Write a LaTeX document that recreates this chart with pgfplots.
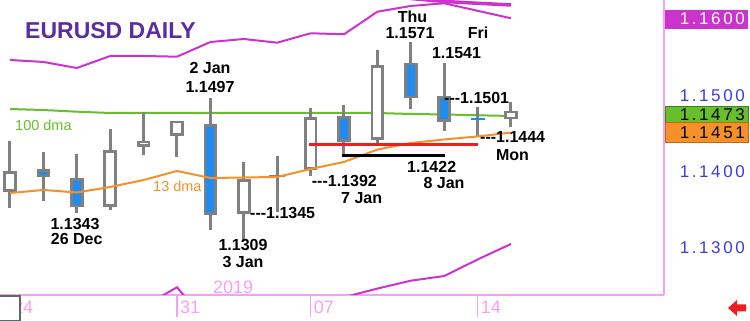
\documentclass[border=0pt]{standalone}
\usepackage{pgfplots}
\pgfplotsset{compat=1.18}
\usepackage{pgfplotstable}
\usepackage{fontspec}
\setmainfont{Liberation Sans}

\definecolor{cgrey}{RGB}{128,128,128}
\definecolor{cblue}{RGB}{30,140,240}
\definecolor{cmag}{RGB}{204,51,204}
\definecolor{cgreen}{RGB}{105,190,45}
\definecolor{cgreenb}{RGB}{60,130,30}
\definecolor{corange}{RGB}{245,145,40}
\definecolor{corangeb}{RGB}{200,100,20}
\definecolor{cpink}{RGB}{245,160,245}
\definecolor{ctitle}{RGB}{90,45,160}
\definecolor{cylab}{RGB}{60,60,220}
\definecolor{cred}{RGB}{235,30,35}
\definecolor{cbox}{RGB}{100,100,100}

\pgfplotstableread{
i H L
0 1.14396 1.13516
1 1.14248 1.13612
2 1.14222 1.13451
3 1.14545 1.13490
4 1.14775 1.14209
5 1.14658 1.14179
6 1.14954 1.13229
7 1.14122 1.13085
8 1.14196 1.13470
9 1.14827 1.13940
10 1.14863 1.14200
11 1.15582 1.14340
12 1.15690 1.14807
13 1.15408 1.14527
14 1.14833 1.14448
15 1.14898 1.14579
}\wicks

\pgfplotstableread{
i B T
0 1.13729 1.14000
3 1.13533 1.14275
4 1.14318 1.14396
5 1.14458 1.14658
7 1.13438 1.13892
9 1.14013 1.14702
11 1.14405 1.15386
15 1.14676 1.14788
}\upbodies

\pgfplotstableread{
i B T
1 1.13918 1.14026
2 1.13525 1.13905
6 1.13425 1.14614
10 1.14383 1.14719
12 1.14950 1.15416
13 1.14644 1.14980
}\downbodies

\pgfplotstableread{
i B T
8 1.13915 1.13954
}\doji

\pgfplotstableread{
i B T
14 1.14664 1.14696
}\dash

\pgfplotstableread{
i G O U Lo
0 1.14810 1.13712 1.15451 1.1212
1 1.14797 1.13752 1.15425 1.1210
2 1.14775 1.13719 1.15346 1.1206
3 1.14758 1.13791 1.15503 1.1212
4 1.14758 1.13882 1.15503 1.1223
5 1.14758 1.14000 1.15494 1.1248
6 1.14758 1.13908 1.15686 1.1197
7 1.14758 1.13915 1.15725 1.1200
8 1.14758 1.13922 1.15677 1.1210
9 1.14758 1.14026 1.15800 1.1225
10 1.14758 1.14118 1.15787 1.1235
11 1.14758 1.14280 1.16082 1.12463
12 1.14745 1.14366 1.16157 1.12566
13 1.14739 1.14412 1.16192 1.12627
14 1.14728 1.14451 1.16094 1.12843
15 1.14719 1.14503 1.15996 1.13046
}\lines

\pgfplotstableread{
i V
12 1.16255
13 1.16216
14 1.16192
15 1.16170
}\topband

\newcommand\rl[4]{1\kern2.6pt.\kern2.6pt#1\kern2.6pt#2\kern2.6pt#3\kern2.6pt#4}
\newcommand\ann{\fontsize{16}{16}\selectfont\bfseries}

\begin{document}
\begin{tikzpicture}
\path[use as bounding box, fill=white] (0pt,-26pt) rectangle (750pt,295pt);
\begin{axis}[
  at={(0pt,0pt)}, anchor=south west,
  scale only axis, width=664pt, height=295pt,
  xmin=-0.2994, xmax=19.581, ymin=1.12379, ymax=1.16235,
  axis x line*=bottom, axis y line*=right,
  x axis line style={-}, y axis line style={-},
  axis line style={draw=cpink, line width=1.3pt},
  ytick=\empty,
  xtick={0,5,9,14}, xticklabels={24,31,07,14},
  tick align=outside, major tick length=22pt,
  tick style={draw=cpink, line width=1.2pt},
  xticklabel style={anchor=west, inner sep=0pt, xshift=3pt, yshift=10pt,
     text=cpink, font=\fontsize{18}{18}\selectfont},
  clip mode=individual,
]
% bands
\addplot[cmag, line width=2pt, mark=none] table[x=i, y=U] {\lines};
\addplot[cmag, line width=3.5pt, mark=none] table[x=i, y=V] {\topband};
\addplot[cmag, line width=2pt, mark=none] table[x=i, y=Lo] {\lines};
% 100 dma
\addplot[cgreen, line width=2pt, mark=none] table[x=i, y=G] {\lines};
% wicks
\addplot[draw=none, mark=none, error bars/.cd, y dir=plus, y explicit, error mark=none,
  error bar style={draw=cgrey, line width=3pt}]
  table[x=i, y=L, y error plus expr=\thisrow{H}-\thisrow{L}] {\wicks};
% body outlines
\addplot[draw=none, mark=none, error bars/.cd, y dir=plus, y explicit, error mark=none,
  error bar style={draw=cgrey, line width=13.5pt}]
  table[x=i, y=B, y error plus expr=\thisrow{T}-\thisrow{B}] {\upbodies};
\addplot[draw=none, mark=none, error bars/.cd, y dir=plus, y explicit, error mark=none,
  error bar style={draw=cgrey, line width=13.5pt}]
  table[x=i, y=B, y error plus expr=\thisrow{T}-\thisrow{B}] {\downbodies};
\addplot[draw=none, mark=none, error bars/.cd, y dir=plus, y explicit, error mark=none,
  error bar style={draw=cgrey, line width=16pt}]
  table[x=i, y=B, y error plus expr=\thisrow{T}-\thisrow{B}] {\doji};
% body fills
\addplot[draw=none, mark=none, error bars/.cd, y dir=plus, y explicit, error mark=none,
  error bar style={draw=white, line width=8pt}]
  table[x=i, y expr=\thisrow{B}+0.00035, y error plus expr=\thisrow{T}-\thisrow{B}-0.0007] {\upbodies};
\addplot[draw=none, mark=none, error bars/.cd, y dir=plus, y explicit, error mark=none,
  error bar style={draw=cblue, line width=8pt}]
  table[x=i, y expr=\thisrow{B}+0.00035, y error plus expr=\thisrow{T}-\thisrow{B}-0.0007] {\downbodies};
\addplot[draw=none, mark=none, error bars/.cd, y dir=plus, y explicit, error mark=none,
  error bar style={draw=cblue, line width=14pt}]
  table[x=i, y=B, y error plus expr=\thisrow{T}-\thisrow{B}] {\dash};
% 13 dma
\addplot[corange, line width=2pt, mark=none] table[x=i, y=O] {\lines};
% support lines
\addplot[cred, line width=3pt, mark=none] coordinates {(8.95,1.1434) (14.01,1.1434)};
\addplot[black, line width=3pt, mark=none] coordinates {(9.94,1.1420) (13.02,1.1420)};
\end{axis}

% title and labels
\node[anchor=west, inner sep=0pt, text=ctitle, font=\fontsize{23}{23}\selectfont\bfseries] at (25pt,264.5pt) {EURUSD DAILY};
\node[anchor=west, inner sep=0pt, text=cgreen, font=\fontsize{14.5}{14.5}\selectfont] at (15pt,170pt) {100 dma};
\node[anchor=west, inner sep=0pt, text=corange, font=\fontsize{14.5}{14.5}\selectfont] at (153pt,109pt) {13 dma};
\node[anchor=west, inner sep=0pt, text=cpink, font=\fontsize{18}{18}\selectfont] at (213pt,8pt) {2019};

\node[inner sep=0pt, font=\ann] at (210pt,227pt) {2 Jan};
\node[inner sep=0pt, font=\ann] at (210pt,208pt) {1.1497};
\node[inner sep=0pt, font=\ann] at (75pt,71pt) {1.1343};
\node[inner sep=0pt, font=\ann] at (76.7pt,56pt) {26 Dec};
\node[inner sep=0pt, font=\ann] at (243pt,49.5pt) {1.1309};
\node[inner sep=0pt, font=\ann] at (243pt,33pt) {3 Jan};
\node[anchor=west, inner sep=0pt, font=\ann] at (250pt,82.3pt) {-{}-{}-1.1345};
\node[anchor=west, inner sep=0pt, font=\ann] at (311.7pt,114.3pt) {-{}-{}-1.1392};
\node[inner sep=0pt, font=\ann] at (361.7pt,97pt) {7 Jan};
\node[inner sep=0pt, font=\ann] at (431.7pt,128pt) {1.1422};
\node[inner sep=0pt, font=\ann] at (444pt,112pt) {8 Jan};
\node[inner sep=0pt, font=\ann] at (412.5pt,278.3pt) {Thu};
\node[inner sep=0pt, font=\ann] at (410pt,262pt) {1.1571};
\node[inner sep=0pt, font=\ann] at (456.5pt,242pt) {1.1541};
\node[inner sep=0pt, font=\ann] at (478pt,262pt) {Fri};
\node[anchor=west, inner sep=0pt, font=\ann] at (444pt,197pt) {-{}-{}-1.1501};
\node[anchor=west, inner sep=0pt, font=\ann] at (480pt,158pt) {-{}-{}-1.1444};
\node[inner sep=0pt, font=\ann] at (512.5pt,140pt) {Mon};

% right scale
\fill[cmag] (664.5pt,265.7pt) rectangle (748pt,285pt);
\filldraw[fill=cgreen, draw=cgreenb, line width=0.8pt] (665pt,172.3pt) rectangle (748pt,188.3pt);
\filldraw[fill=corange, draw=corangeb, line width=0.8pt] (665pt,152.3pt) rectangle (748pt,172.3pt);
\node[anchor=east, inner sep=0pt, text=white, font=\fontsize{17}{17}\selectfont] at (745pt,276pt) {\rl1600};
\node[anchor=east, inner sep=0pt, text=cylab, font=\fontsize{17}{17}\selectfont] at (745pt,199pt) {\rl1500};
\node[anchor=east, inner sep=0pt, text=black, font=\fontsize{17}{17}\selectfont] at (745pt,180.3pt) {\rl1473};
\node[anchor=east, inner sep=0pt, text=black, font=\fontsize{17}{17}\selectfont] at (745pt,162.5pt) {\rl1451};
\node[anchor=east, inner sep=0pt, text=cylab, font=\fontsize{17}{17}\selectfont] at (745pt,123pt) {\rl1400};
\node[anchor=east, inner sep=0pt, text=cylab, font=\fontsize{17}{17}\selectfont] at (745pt,47.5pt) {\rl1300};

% corner box and arrow
\filldraw[fill=white, draw=cbox, line width=1.2pt] (-1pt,-25.5pt) rectangle (20pt,-1pt);
\fill[cred] (728pt,-13pt) -- (737pt,-5pt) -- (737pt,-9.5pt) -- (746pt,-9.5pt) -- (746pt,-16.5pt) -- (737pt,-16.5pt) -- (737pt,-21pt) -- cycle;
\end{tikzpicture}
\end{document}
